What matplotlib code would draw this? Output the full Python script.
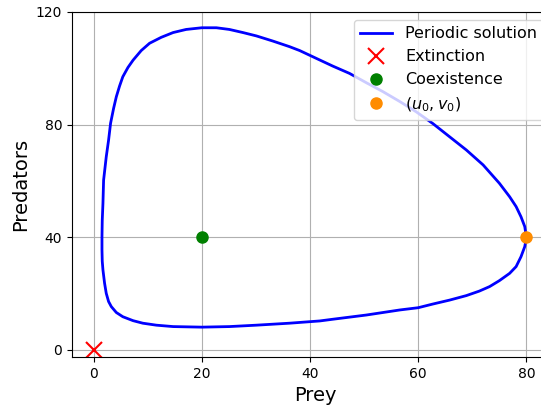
import matplotlib
matplotlib.use("Agg")
import matplotlib.pyplot as plt

# orbit, counterclockwise from (u0, v0)
prey = [80.0, 79.7, 79.0, 78.1, 76.9, 75.0, 72.0, 68.9, 65.8, 62.7,
        59.6, 56.6, 53.5, 50.4, 47.3, 44.2, 41.2, 38.1, 36.2, 33.1,
        30.1, 27.6, 25.1, 22.7, 20.0, 17.1, 14.7, 12.5, 10.35, 8.8,
        7.3, 6.35, 5.4, 4.8, 4.2, 3.7, 3.14, 2.77, 2.34, 1.85,
        1.73, 1.6, 1.55, 1.55, 1.6, 1.73, 2.03, 2.34, 2.77, 3.27,
        4.2, 5.4, 7.3, 9.1, 11.6, 14.7, 20.0, 25.1, 30.1, 36.2,
        41.8, 44.2, 50.4, 56.6, 60.0, 62.7, 65.8, 68.9, 71.3, 73.2,
        75.0, 76.9, 78.1, 79.0, 79.7, 80.0]
predators = [40.0, 43.8, 47.3, 50.9, 54.4, 59.2, 65.7, 71.0, 75.7, 80.4,
             84.6, 88.2, 91.7, 94.9, 98.2, 100.8, 103.5, 106.3, 107.7, 109.7,
             111.5, 112.7, 113.8, 114.4, 114.4, 113.8, 112.7, 111.0, 108.9, 106.3,
             102.9, 100.3, 97.0, 93.7, 89.9, 85.8, 80.5, 74.5, 68.6, 60.3,
             52.1, 46.0, 40.2, 35.5, 31.5, 28.4, 23.7, 20.1, 17.2, 15.4,
             13.3, 11.8, 10.4, 9.5, 8.8, 8.3, 8.1, 8.3, 8.8, 9.5,
             10.3, 10.9, 12.4, 14.2, 15.0, 16.3, 17.7, 19.3, 20.9, 22.5,
             24.6, 27.2, 29.6, 33.1, 36.7, 40.0]

extinction = (0, 0)
coexistence = (20, 40)
start = (80, 40)

fig = plt.figure(figsize=(5.41, 4.12), dpi=100)
# right side of the axes runs past the figure edge, as in the cropped original
ax = fig.add_axes([0.133, 0.1335, 0.90, 0.8374])

ax.plot(prey, predators, color="b", lw=2, label="Periodic solution")
ax.plot(*extinction, "x", color="r", ms=11, mew=1.5, label="Extinction")
ax.plot(*coexistence, "o", color="g", ms=8, label="Coexistence")
ax.plot(*start, "o", color="darkorange", ms=8, label=r"$(u_0, v_0)$")

ax.set_xlim(-4, 86)
ax.set_ylim(-2.5, 120)
ax.set_xticks([0, 20, 40, 60, 80])
ax.set_yticks([0, 40, 80, 120])
ax.grid(True)
ax.set_xlabel("Prey", fontsize=14)
ax.set_ylabel("Predators", fontsize=14)
ax.legend(loc="upper right", fontsize=11.5, bbox_to_anchor=(0.985, 1.0))

fig.savefig("out.png", dpi=100)
